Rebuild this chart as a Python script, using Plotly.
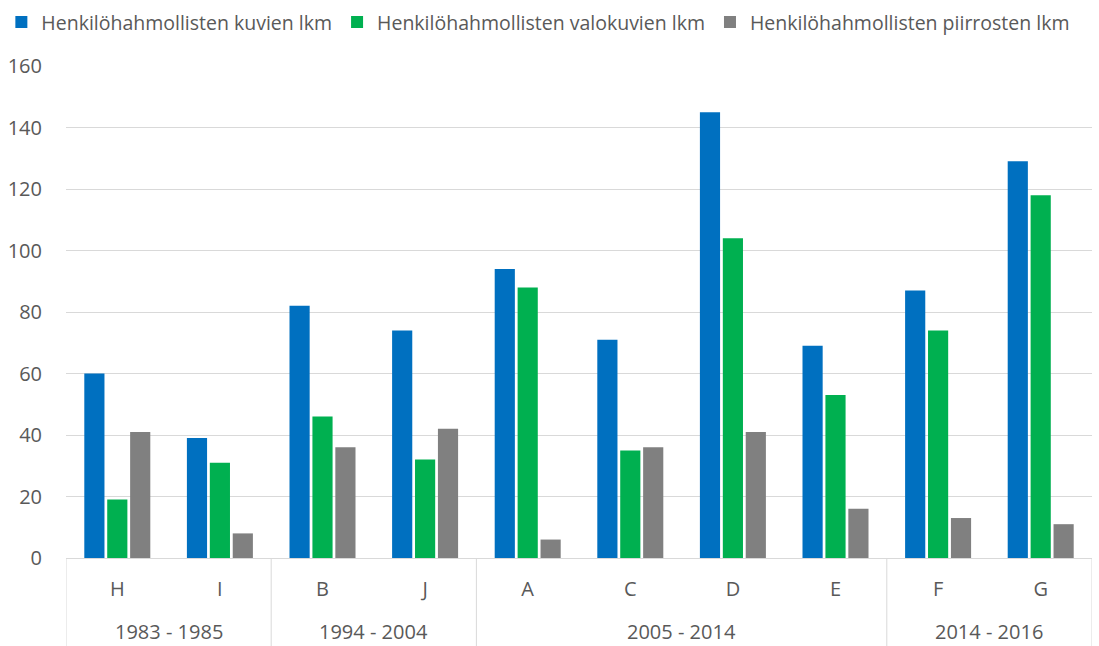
import plotly.graph_objects as go

periods = ["1983 - 1985", "1983 - 1985", "1994 - 2004", "1994 - 2004",
           "2005 - 2014", "2005 - 2014", "2005 - 2014", "2005 - 2014",
           "2014 - 2016", "2014 - 2016"]
letters = ["H", "I", "B", "J", "A", "C", "D", "E", "F", "G"]

kuvat = [60, 39, 82, 74, 94, 71, 145, 69, 87, 129]
valokuvat = [19, 31, 46, 32, 88, 35, 104, 53, 74, 118]
piirrokset = [41, 8, 36, 42, 6, 36, 41, 16, 13, 11]

series_names = ["Henkilöhahmollisten kuvien lkm",
                "Henkilöhahmollisten valokuvien lkm",
                "Henkilöhahmollisten piirrosten lkm"]
colors = ["#0070C0", "#00B050", "#808080"]

FONT = "Open Sans"
TXT = "#595959"
GRID = "#D9D9D9"

fig = go.Figure()
for name, vals, col in zip(series_names, [kuvat, valokuvat, piirrokset], colors):
    fig.add_trace(go.Bar(x=letters, y=vals, name=name,
                         marker=dict(color=col, line=dict(width=0))))

# group spans from the period list
groups = []
for i, p in enumerate(periods):
    if groups and groups[-1][0] == p:
        groups[-1][2] = i
    else:
        groups.append([p, i, i])

shapes = []
annotations = []
for p, a, b in groups:
    annotations.append(dict(x=(a + b) / 2, xref="x", y=-0.149, yref="paper",
                            text=p, showarrow=False, yanchor="middle",
                            font=dict(size=20, color=TXT, family=FONT)))
boundaries = [groups[0][1] - 0.5] + [g[2] + 0.5 for g in groups]
for bx in boundaries:
    shapes.append(dict(type="line", xref="x", yref="paper", x0=bx, x1=bx,
                       y0=0, y1=-0.18, line=dict(color=GRID, width=1)))

fig.update_layout(
    width=1099, height=646,
    barmode="group", bargap=0.33, bargroupgap=0.12,
    paper_bgcolor="white", plot_bgcolor="white",
    margin=dict(l=66, r=7, t=66, b=88, autoexpand=False),
    font=dict(family=FONT, color=TXT, size=20),
    legend=dict(orientation="h", x=-0.063, xanchor="left", y=1.049, yanchor="bottom",
                font=dict(size=19.5, color=TXT), itemwidth=30, tracegroupgap=0),
    showlegend=True,
    shapes=shapes, annotations=annotations,
)
fig.update_yaxes(range=[0, 160], dtick=20, showgrid=True, gridcolor=GRID,
                 gridwidth=1, zeroline=False, showline=False, automargin=False,
                 tickfont=dict(size=20, color=TXT), ticks="", ticklabelstandoff=23)
fig.update_xaxes(type="category", showline=True, linecolor=GRID, linewidth=1,
                 automargin=False, tickfont=dict(size=20, color=TXT), ticks="",
                 ticklabelstandoff=13, range=[-0.5, len(letters) - 0.5])

fig.write_html("out.html", config={"displayModeBar": False},
               post_script="document.body.style.margin='0px';")
